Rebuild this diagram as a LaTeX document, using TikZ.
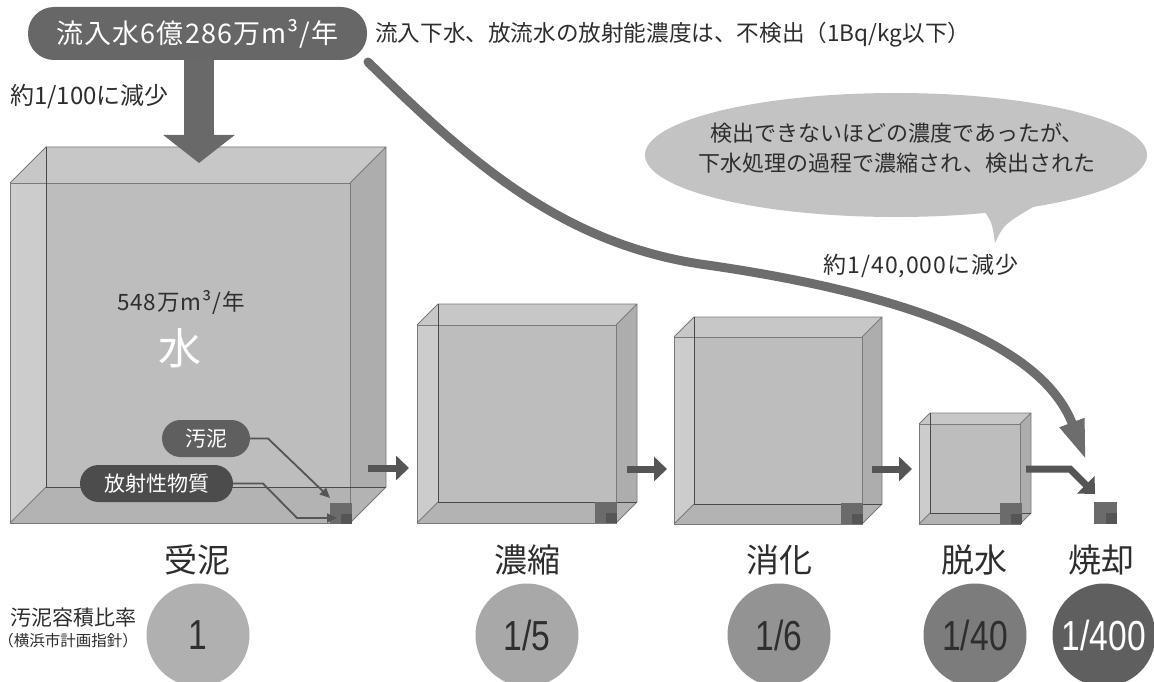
\documentclass[tikz,border=0pt]{standalone}
\usepackage{fontspec}
\setmainfont{Noto Sans CJK JP}
\newfontfamily\widefont[LetterSpace=4]{Noto Sans CJK JP}
\newfontfamily\numfont[FakeStretch=0.8]{Liberation Sans}
\usetikzlibrary{arrows.meta,shapes.geometric}
\definecolor{cmid}{HTML}{BDBDBD}
\definecolor{cleft}{HTML}{CCCCCC}
\definecolor{ctop}{HTML}{C7C7C7}
\definecolor{cright}{HTML}{ADADAD}
\definecolor{cbot}{HTML}{B3B3B3}
\definecolor{edgegray}{HTML}{7A7A7A}
\definecolor{innergray}{HTML}{4A4A4A}
\definecolor{labelgray}{HTML}{676767}
\definecolor{pillA}{HTML}{5F5F5F}
\definecolor{pillB}{HTML}{4C4C4C}
\definecolor{flowgray}{HTML}{555555}
\definecolor{curvegray}{HTML}{6D6D6D}
\definecolor{downgray}{HTML}{696969}
\definecolor{bubblegray}{HTML}{C3C3C3}
\definecolor{txtdark}{HTML}{2E2E2E}
\definecolor{sqouter}{HTML}{6B6B6B}
\definecolor{sqinner}{HTML}{555555}
\definecolor{circA}{HTML}{B0B0B0}
\definecolor{circB}{HTML}{A8A8A8}
\definecolor{circC}{HTML}{939393}
\definecolor{circD}{HTML}{7C7C7C}
\definecolor{circE}{HTML}{5F5F5F}
\newcommand\tank[6]{%
 \coordinate (#1-ftl) at (#2,#3);
 \coordinate (#1-ftr) at ({#2+#4},#3);
 \coordinate (#1-fbl) at (#2,{#3+#5});
 \coordinate (#1-fbr) at ({#2+#4},{#3+#5});
 \coordinate (#1-btl) at ({#2+#6},{#3-#6});
 \coordinate (#1-btr) at ({#2+#4+#6},{#3-#6});
 \coordinate (#1-bbl) at ({#2+#6},{#3+#5-#6});
 \coordinate (#1-bbr) at ({#2+#4+#6},{#3+#5-#6});
 \fill[cmid] (#1-ftl) rectangle (#1-fbr);
 \fill[cleft] (#1-ftl) -- (#1-btl) -- (#1-bbl) -- (#1-fbl) -- cycle;
 \fill[ctop] (#1-ftl) -- (#1-btl) -- (#1-btr) -- (#1-ftr) -- cycle;
 \fill[cright] (#1-ftr) -- (#1-btr) -- (#1-bbr) -- (#1-fbr) -- cycle;
 \fill[cbot] (#1-fbl) -- (#1-bbl) -- (#1-bbr) -- (#1-fbr) -- cycle;
 \draw[edgeline] (#1-ftl) rectangle (#1-fbr);
 \draw[edgeline] (#1-ftl) -- (#1-btl) -- (#1-btr) -- (#1-bbr) -- (#1-fbr) (#1-btr) -- (#1-ftr) (#1-fbl) -- (#1-bbl);
 \draw[innerline] (#1-btl) -- (#1-bbl) -- (#1-bbr);
}
\newcommand\sludgesq[5]{%
 \node[sqbox, minimum width=#4, minimum height=#5] (#1) at ({#2+#4/2},{#3+#5/2}) {};
 \fill[sqinner] ({#2+#4/2},{#3+#5/2}) rectangle ({#2+#4},{#3+#5});
}
\begin{document}
\begin{tikzpicture}[x=1pt,y=-1pt,
  edgeline/.style={draw=edgegray, line width=0.9pt},
  innerline/.style={draw=innergray, line width=0.8pt},
  sqbox/.style={draw=none, fill=sqouter, inner sep=0pt, outer sep=0pt},
  flowarrow/.style={draw=flowgray, line width=7pt, -{Triangle[width=24pt,length=13pt]}},
  thinarrow/.style={draw=flowgray, line width=1.8pt, -{Triangle[width=9pt,length=10pt]}},
  pill/.style={rounded corners=18.5pt, text=white, inner sep=0pt, font=\fontsize{21}{24}\selectfont},
  steplabel/.style={text=txtdark, inner sep=0pt, font=\fontsize{33}{36}\selectfont},
  ratio/.style={circle, minimum size=103pt, inner sep=0pt, text=txtdark, font=\numfont\fontsize{42}{44}\selectfont},
  plain/.style={inner sep=0pt, text=txtdark}
]
\fill[white] (0,0) rectangle (1154,682);
\useasboundingbox (0,0) rectangle (1154,682);

% tanks
\tank{A}{10}{183}{340}{340}{36}
\tank{B}{417}{325}{199}{198}{21}
\tank{C}{674}{337}{188}{187}{20}
\tank{D}{919}{424}{101}{100}{11}

% sludge squares
\sludgesq{sA}{330}{503}{22}{21}
\sludgesq{sB}{595}{502}{22}{21}
\sludgesq{sC}{841}{503}{22}{21}
\sludgesq{sD}{1000}{503}{22}{21}
\sludgesq{sE}{1094}{502}{23}{22}

% texts in big tank
\node[plain, font=\widefont\fontsize{22.5}{26}\selectfont] (vol) at (181,302) {548万m³/年};
\node[inner sep=0pt, text=white, font=\fontsize{43}{46}\selectfont] (water) at (180,348) {水};

% pills
\node[pill, fill=pillA, minimum width=88pt, minimum height=37pt] (sludge) at (206,438.5) {汚泥};
\node[pill, fill=pillB, minimum width=153pt, minimum height=37pt] (rad) at (156.5,483.5) {放射性物質};
\coordinate (sludgeTip) at (330,498);
\coordinate (radTip) at (337,518);
\draw[thinarrow] (sludge.east) -- (268,438.5) -- (sludgeTip);
\draw[thinarrow] (rad.east) -- (263,483.5) -- (297,518) -- (radTip);

% flow arrows between tanks
\coordinate (f1s) at (368,468); \coordinate (f1e) at (409,468);
\coordinate (f2s) at (627,469); \coordinate (f2e) at (667,469);
\coordinate (f3s) at (872,469); \coordinate (f3e) at (912,469);
\coordinate (f4s) at (1026,469); \coordinate (f4m) at (1070,469); \coordinate (f4e) at (1095,494);
\draw[flowarrow] (f1s) -- (f1e);
\draw[flowarrow] (f2s) -- (f2e);
\draw[flowarrow] (f3s) -- (f3e);
\draw[flowarrow] (f4s) -- (f4m) -- (f4e);

% top label
\node[fill=labelgray, rounded corners=26pt, minimum width=339pt, minimum height=53pt, inner sep=0pt,
      text=white, font=\widefont\fontsize{27}{29}\selectfont] (inflow) at (197.5,33.5) {流入水6億286万m³/年};
\node[plain, anchor=west, font=\fontsize{22.6}{26}\selectfont] (note) at (375,35) {流入下水、放流水の放射能濃度は、不検出（1Bq/kg以下）};
\node[plain, anchor=west, font=\fontsize{24}{27}\selectfont] (red100) at (10,97) {約1/100に減少};

% down arrow
\coordinate (downEnd) at (199,163);
\draw[draw=downgray, line width=30pt, -{Triangle[width=70pt,length=28pt]}] (inflow.south -| downEnd) -- (downEnd);

% bubble
\fill[bubblegray] (982,208) .. controls (992,222) .. (995,243) .. controls (1004,224) .. (1040,203) -- cycle;
\node[ellipse, fill=bubblegray, minimum width=502pt, minimum height=124pt, inner sep=0pt] (bubble) at (896,155) {};
\node[plain, align=center, font=\fontsize{22}{30.5}\selectfont] (btext) at (897,148) {検出できないほどの濃度であったが、\\下水処理の過程で濃縮され、検出された};
\node[plain, font=\widefont\fontsize{23}{26}\selectfont] (red40k) at (921,266) {約1/40,000に減少};

% big curved arrow
\coordinate (cstart) at (368,62);
\coordinate (cend) at (1086,460);
\draw[draw=curvegray, line width=9pt, line cap=round, -{Triangle[width=24pt,length=40pt]}]
  (cstart) .. controls (470,162) and (560,242) .. (700,264) .. controls (885,290) and (1040,338) .. (cend);

% step labels
\node[steplabel] (l1) at (197,560) {受泥};
\node[steplabel] (l2) at (527,560) {濃縮};
\node[steplabel] (l3) at (779,560) {消化};
\node[steplabel] (l4) at (974,560) {脱水};
\node[steplabel] (l5) at (1101,560) {焼却};

% ratio circles
\node[ratio, fill=circA] (r1) at (198,635) {1};
\node[ratio, fill=circB] (r2) at (527,635) {1/5};
\node[ratio, fill=circC] (r3) at (779,635) {1/6};
\node[ratio, fill=circD] (r4) at (975,635) {1/40};
\node[ratio, fill=circE, text=white] (r5) at (1104,635) {1/400};

\node[plain, font=\fontsize{21}{24}\selectfont] (ratiolabel) at (73,618) {汚泥容積比率};
\node[plain, font=\fontsize{15.5}{18}\selectfont] (ratiosrc) at (68,641) {（横浜市計画指針）};
\end{tikzpicture}
\end{document}
